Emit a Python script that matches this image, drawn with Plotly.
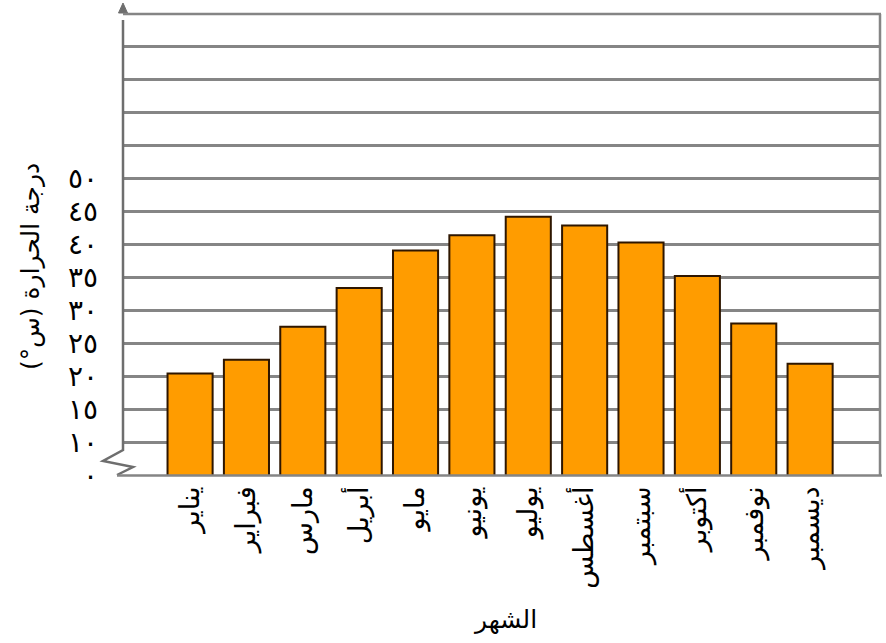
import plotly.graph_objects as go

months = ['يناير', 'فبراير', 'مارس', 'أبريل', 'مايو', 'يونيو',
          'يوليو', 'أغسطس', 'سبتمبر', 'أكتوبر', 'نوفمبر', 'ديسمبر']
temps = [20.4, 22.5, 27.5, 33.4, 39.1, 41.4, 44.2, 42.9, 40.3, 35.2, 28.0, 21.9]

# axis is broken between 0 and 10: the "0" label sits at the bottom of the axis (5)
y_tick_values = [5, 10, 15, 20, 25, 30, 35, 40, 45, 50, 55, 60, 65, 70, 75]
y_tick_labels = ['٠', '١٠', '١٥', '٢٠', '٢٥', '٣٠', '٣٥', '٤٠', '٤٥', '٥٠', '', '', '', '', '']

y_title = 'درجة الحرارة (س°)'
x_title = 'الشهر'

W, H = 886, 643
L, R, T, B = 123, 6, 14, 168
pw, ph = W - L - R, H - T - B


def px(x):
    return (x - L) / pw


def py(y):
    return (H - B - y) / ph


FONT = 'DejaVu Sans'
GRID = '#858585'
AXIS = '#6e6e6e'

fig = go.Figure(go.Bar(
    x=months, y=temps,
    marker=dict(color='#FF9C00', line=dict(color='#2e1600', width=2)),
    width=0.8,
))

zig = (f"M {px(123)} {py(20)} L {px(123)} {py(450)} L {px(103)} {py(461)} "
       f"L {px(133)} {py(467)} L {px(117)} {py(475)}")

shapes = [
    # y axis with break
    dict(type='path', xref='paper', yref='paper', path=zig,
         line=dict(color=AXIS, width=2.5)),
    # arrow head
    dict(type='path', xref='paper', yref='paper',
         path=f"M {px(118.5)} {py(13)} L {px(123)} {py(3)} L {px(127.5)} {py(13)} Z",
         fillcolor=AXIS, line=dict(color=AXIS, width=1)),
    # top grid line
    dict(type='line', xref='paper', yref='paper', x0=px(123), x1=px(881),
         y0=py(14), y1=py(14), line=dict(color=GRID, width=2.5)),
    # baseline
    dict(type='line', xref='paper', yref='paper', x0=px(117), x1=px(882),
         y0=py(475.5), y1=py(475.5), line=dict(color=GRID, width=2.5)),
    # right border
    dict(type='line', xref='paper', yref='paper', x0=px(880), x1=px(880),
         y0=py(14), y1=py(476), line=dict(color=GRID, width=2.5)),
]

fig.update_layout(
    width=W, height=H,
    margin=dict(l=L, r=R, t=T, b=B),
    paper_bgcolor='white', plot_bgcolor='white',
    showlegend=False,
    font=dict(family=FONT, color='black'),
    shapes=shapes,
    annotations=[
        dict(text=y_title, xref='paper', yref='paper', x=px(30), y=py(267),
             textangle=-90, showarrow=False, font=dict(size=25, family=FONT),
             xanchor='center', yanchor='middle'),
        dict(text=x_title, xref='paper', yref='paper', x=px(505), y=py(620),
             showarrow=False, font=dict(size=25, family=FONT),
             xanchor='center', yanchor='middle'),
    ],
)

fig.update_xaxes(
    range=[-1.19, 12.24], tickangle=-90, showgrid=False, showline=False,
    ticks='', ticklabelstandoff=5, tickfont=dict(size=27, family=FONT),
)
fig.update_yaxes(
    range=[5, 75], tickvals=y_tick_values, ticktext=y_tick_labels,
    showgrid=True, gridcolor=GRID, gridwidth=2.5, showline=False,
    zeroline=False, ticks='', ticklabelstandoff=24,
    tickfont=dict(size=28, family=FONT),
)

fig.write_html('out.html', config={'displayModeBar': False},
               post_script="document.body.style.margin='0px';")
